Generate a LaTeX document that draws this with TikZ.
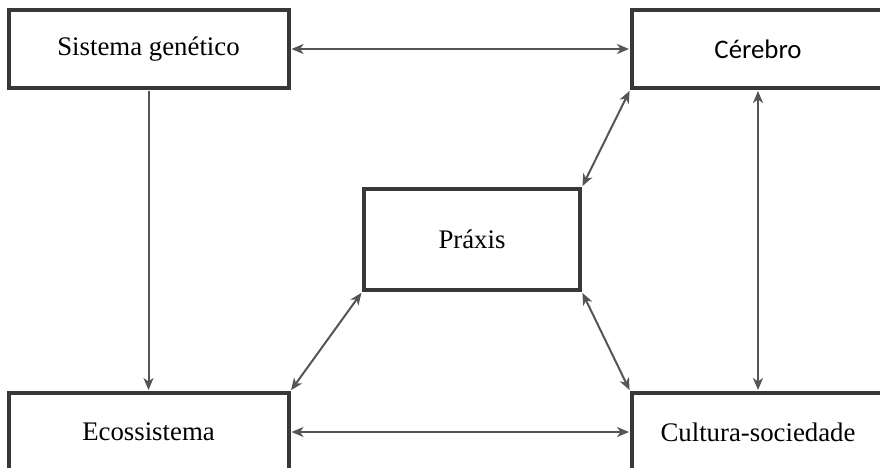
\documentclass[tikz,border=0pt]{standalone}
\usepackage{fontspec}
\setmainfont{Liberation Serif}
\newfontfamily\carlito{Carlito}
\usetikzlibrary{arrows.meta,positioning}
\definecolor{boxgray}{HTML}{383838}
\definecolor{arrowgray}{HTML}{555555}

\begin{document}
\begin{tikzpicture}[x=1pt,y=-1pt,<->,>={Stealth[length=12pt,width=10pt,inset=3.5pt]},shorten >=1pt,shorten <=1pt,
                    main node/.style={rectangle,draw=boxgray,line width=4pt,fill=white,
                    font=\fontsize{26.8}{30}\selectfont,minimum height=78pt}]

  \clip (0,0) rectangle (880,467);

  \node[main node,minimum width=280pt] (1) at (148.5,49) {Sistema genético};
  \node[main node,minimum width=252pt] (2) at (758,49) {\carlito Cérebro};
  \node[main node,minimum width=216pt,minimum height=101pt] (3) at (472,239.5) {Práxis};
  \node[main node,minimum width=280pt] (4) at (148.5,432) {Ecossistema};
  \node[main node,minimum width=252pt] (5) at (758,432) {Cultura-sociedade};

  \path[color=arrowgray,line width=2pt]
    (1) edge (2)
    (1) edge[->] (4)
    (2) edge (5)
    (2.south west) edge (3.north east)
    (3.south west) edge (4.north east)
    (3.south east) edge (5.north west)
    (4) edge (5);
\end{tikzpicture}
\end{document}
